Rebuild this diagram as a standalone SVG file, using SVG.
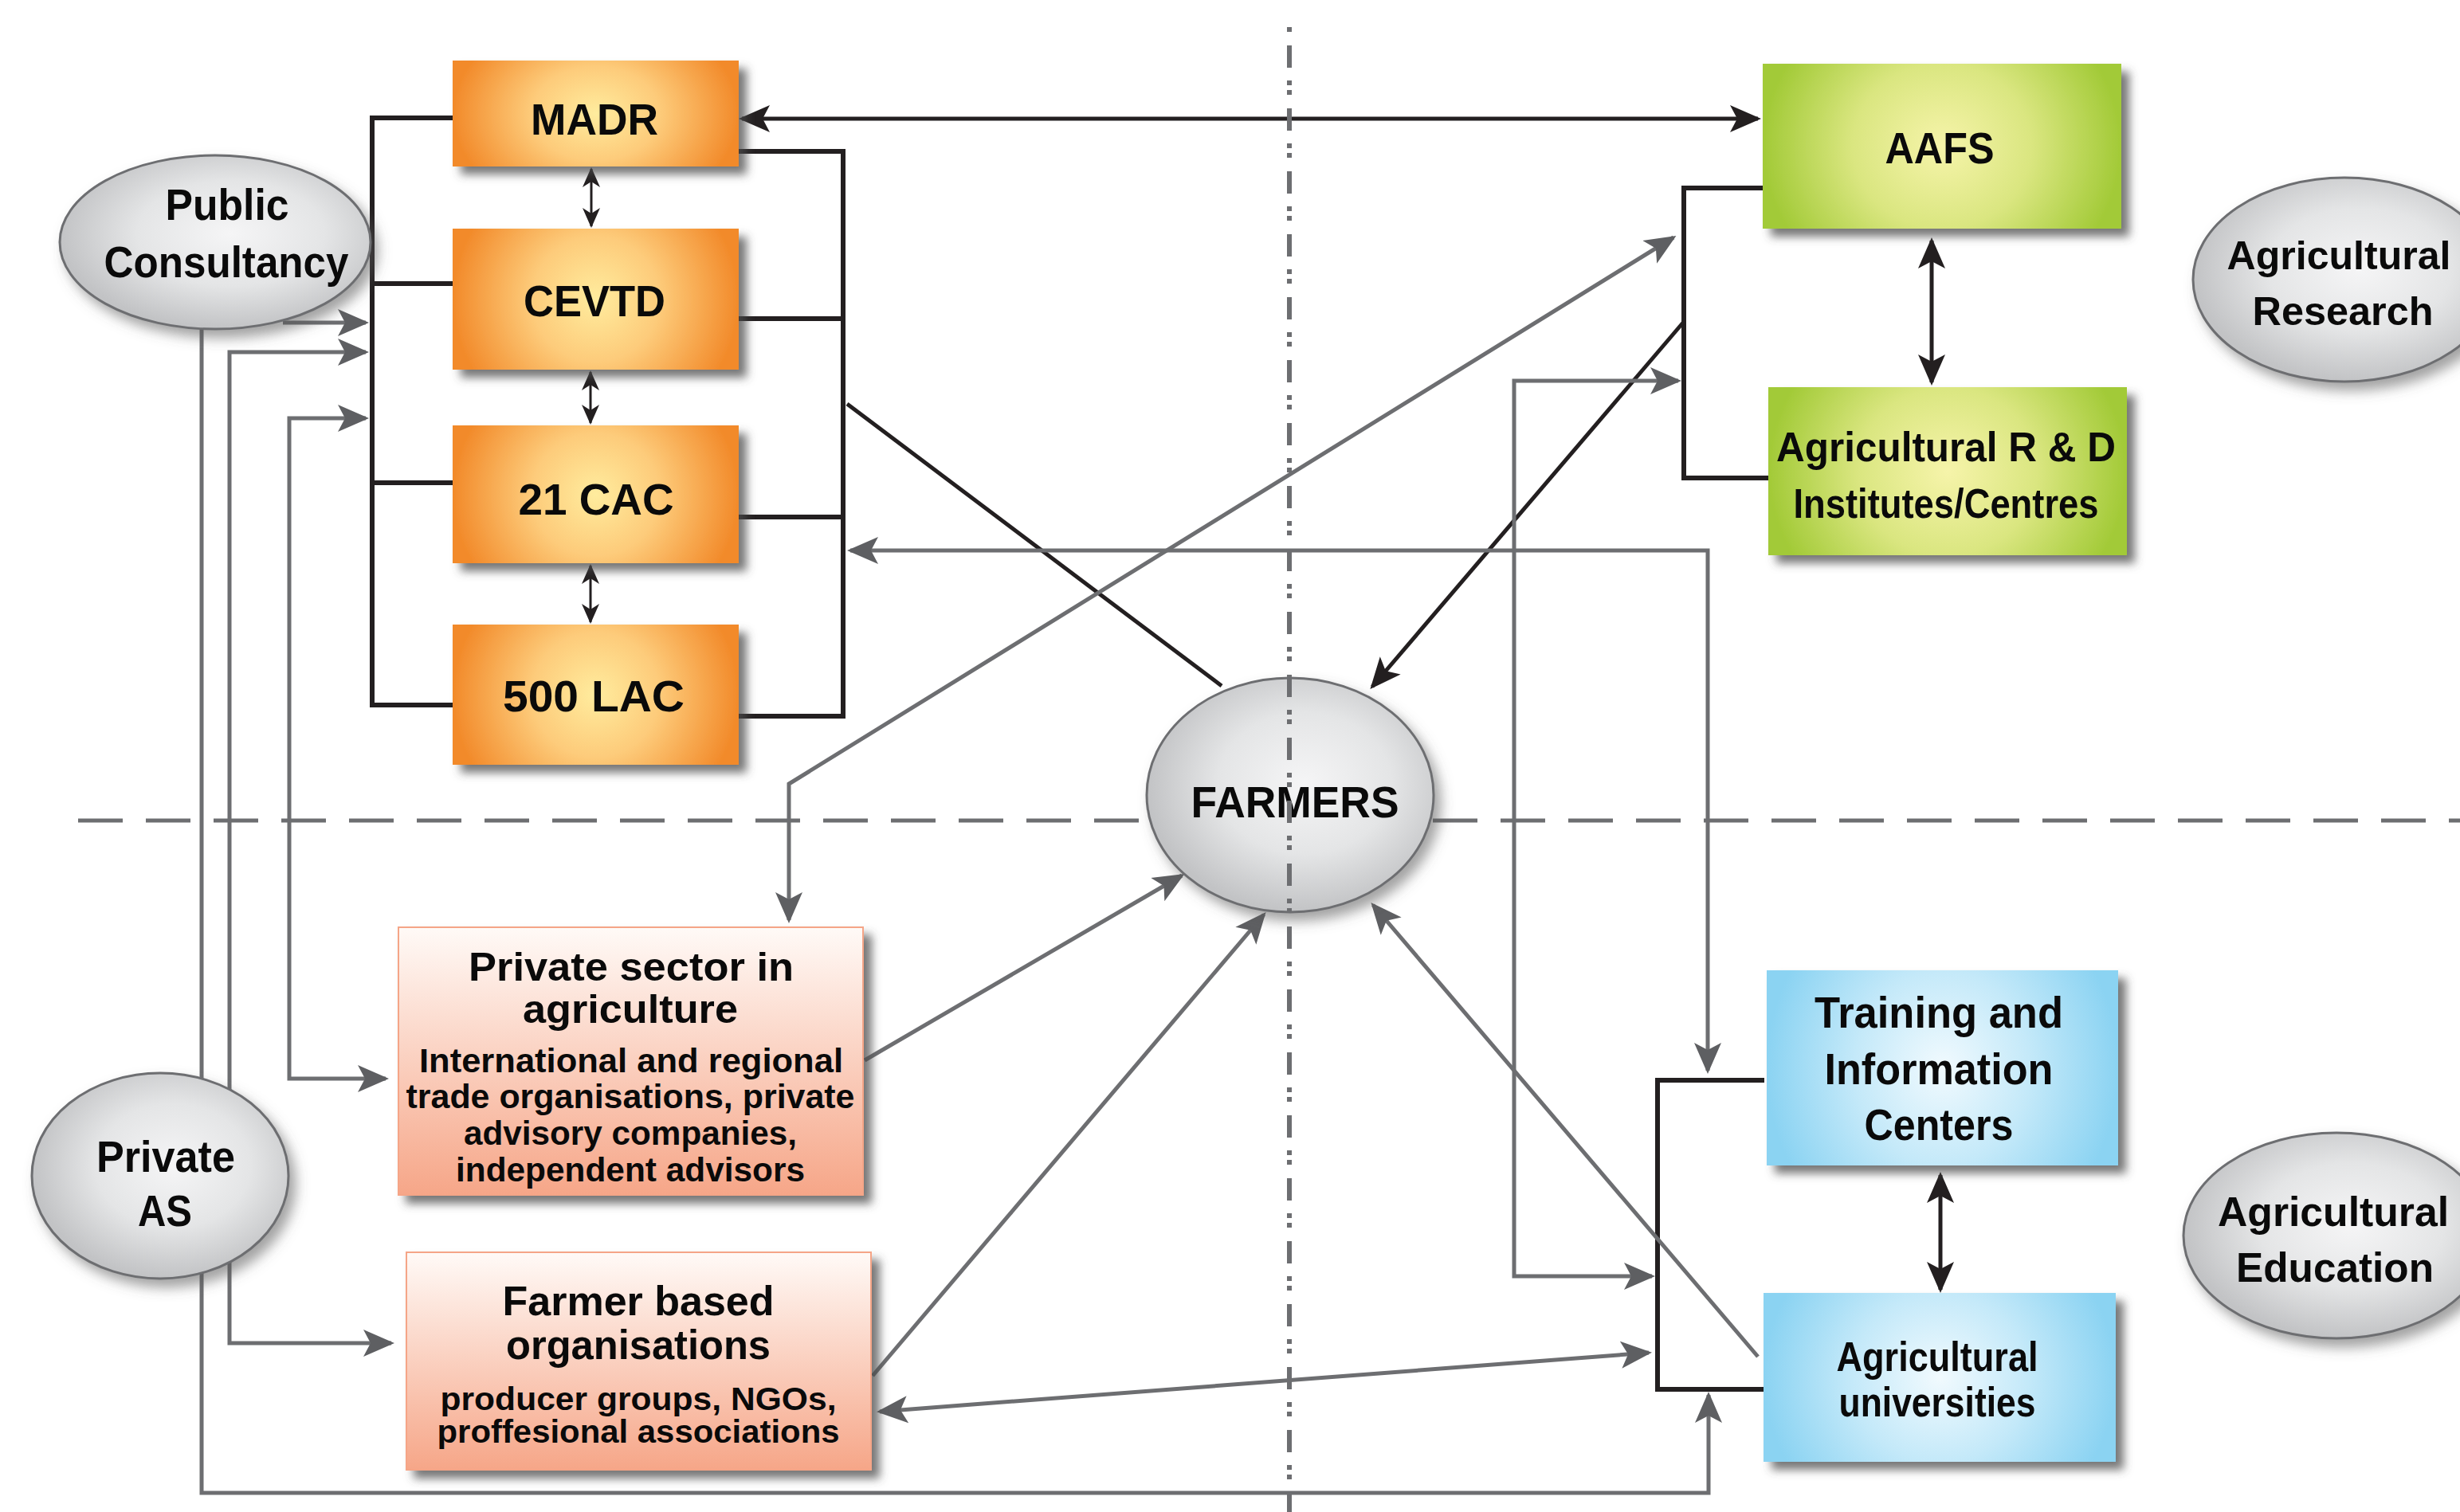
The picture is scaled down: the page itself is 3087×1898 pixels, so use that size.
<svg xmlns="http://www.w3.org/2000/svg" width="3087" height="1898" viewBox="0 0 3087 1898">
<style>
.t{font-family:"Liberation Sans",Arial,sans-serif;font-weight:700;fill:#0a0a0a;text-anchor:middle}
.f56{font-size:56px}.f52{font-size:52px}.f50{font-size:50px}.f42{font-size:42px}.f40{font-size:40px}
.blk{fill:none;stroke:#231F20;stroke-width:6}
.blk5{fill:none;stroke:#231F20;stroke-width:5}
.blk3{fill:none;stroke:#231F20;stroke-width:3}
.gry{fill:none;stroke:#6D6E71;stroke-width:5}
.ell{stroke:#6D6E71;stroke-width:3;fill:url(#gGray)}
</style>
<defs>
<radialGradient id="gOr" cx=".5" cy=".5" r=".5" gradientTransform="translate(.5 .5) scale(1 2) translate(-.5 -.5)">
<stop offset="0" stop-color="#FFEC9E"/><stop offset=".45" stop-color="#FDCB7A"/><stop offset="1" stop-color="#F28A2A"/>
</radialGradient>
<radialGradient id="gGr" cx=".5" cy=".5" r=".5" gradientTransform="translate(.5 .5) scale(1 2) translate(-.5 -.5)">
<stop offset="0" stop-color="#F6F4AA"/><stop offset=".5" stop-color="#DAE680"/><stop offset="1" stop-color="#A2CA37"/>
</radialGradient>
<radialGradient id="gBl" cx=".5" cy=".5" r=".5" gradientTransform="translate(.5 .5) scale(1 2) translate(-.5 -.5)">
<stop offset="0" stop-color="#F1FAFE"/><stop offset=".5" stop-color="#C4E9F9"/><stop offset="1" stop-color="#8BD3F2"/>
</radialGradient>
<linearGradient id="gSa" x1="0" y1="0" x2="0" y2="1">
<stop offset="0" stop-color="#FFFAF7"/><stop offset="1" stop-color="#F6A688"/>
</linearGradient>
<radialGradient id="gGray" cx=".55" cy=".45" r=".55">
<stop offset="0" stop-color="#F5F5F6"/><stop offset=".55" stop-color="#E4E5E6"/><stop offset="1" stop-color="#C2C3C5"/>
</radialGradient>
<filter id="sh" x="-10%" y="-10%" width="130%" height="140%">
<feDropShadow dx="10" dy="10" stdDeviation="6" flood-color="#4A4A4C" flood-opacity=".75"/>
</filter>
<filter id="she" x="-10%" y="-10%" width="130%" height="140%">
<feDropShadow dx="8" dy="10" stdDeviation="8" flood-color="#555" flood-opacity=".55"/>
</filter>
<marker id="aG" viewBox="0 0 40 36" refX="35" refY="18" markerWidth="40" markerHeight="36" markerUnits="userSpaceOnUse" orient="auto-start-reverse">
<path d="M0,1 L39,18 L0,35 L9,18 Z" fill="#5E5F62"/>
</marker>
<marker id="aB" viewBox="0 0 40 36" refX="35" refY="18" markerWidth="40" markerHeight="36" markerUnits="userSpaceOnUse" orient="auto-start-reverse">
<path d="M0,1 L39,18 L0,35 L9,18 Z" fill="#231F20"/>
</marker>
<marker id="aS" viewBox="0 0 26 24" refX="23" refY="12" markerWidth="26" markerHeight="24" markerUnits="userSpaceOnUse" orient="auto-start-reverse">
<path d="M0,1 L25,12 L0,23 L7,12 Z" fill="#231F20"/>
</marker>
</defs>
<rect width="3087" height="1898" fill="#fff"/>

<g id="separators-h">
<path d="M98,1030 H3087" fill="none" stroke="#6D6E71" stroke-width="5" stroke-dasharray="56 29"/>
</g>

<g id="connectors">
<path class="blk" d="M568,148 H467 V885 H568 M467,356 H568 M467,606 H568"/>
<path class="blk" d="M927,190 H1058 V899 H927 M927,400 H1058 M927,649 H1058"/>
<path class="blk" d="M2212,236 H2113 V600 H2219"/>
<path class="blk" d="M2214,1356 H2080 V1744 H2214"/>
<path class="blk5" d="M931,149 H2206" marker-start="url(#aB)" marker-end="url(#aB)"/>
<path class="blk3" d="M742,212 V284" marker-start="url(#aS)" marker-end="url(#aS)"/>
<path class="blk3" d="M741,467 V531" marker-start="url(#aS)" marker-end="url(#aS)"/>
<path class="blk3" d="M741,710 V781" marker-start="url(#aS)" marker-end="url(#aS)"/>
<path class="blk5" d="M2424,302 V480" marker-start="url(#aB)" marker-end="url(#aB)"/>
<path class="blk5" d="M2435,1475 V1619" marker-start="url(#aB)" marker-end="url(#aB)"/>
<path class="blk5" d="M1063,507 L1533,861"/>
<path class="blk5" d="M2112,405 L1722,862" marker-end="url(#aB)"/>
<path class="gry" d="M355,405 H459" marker-end="url(#aG)"/>
<path class="gry" d="M459,442 H288 V1686 H491" marker-start="url(#aG)" marker-end="url(#aG)"/>
<path class="gry" d="M459,525 H363 V1354 H484" marker-start="url(#aG)" marker-end="url(#aG)"/>
<path class="gry" d="M253,412 V1874 H2144 V1751" marker-end="url(#aG)"/>
<path class="gry" d="M2100,298 L990,984 V1155" marker-start="url(#aG)" marker-end="url(#aG)"/>
<path class="gry" d="M1067,691 H2143 V1344" marker-start="url(#aG)" marker-end="url(#aG)"/>
<path class="gry" d="M2106,478 H1900 V1602 H2073" marker-start="url(#aG)" marker-end="url(#aG)"/>
<path class="gry" d="M1085,1331 L1483,1099" marker-end="url(#aG)"/>
<path class="gry" d="M1095,1727 L1586,1148" marker-end="url(#aG)"/>
<path class="gry" d="M2206,1703 L1723,1136" marker-end="url(#aG)"/>
<path class="gry" d="M1104,1772 L2069,1698" marker-start="url(#aG)" marker-end="url(#aG)"/>
</g>

<g id="madr">
<rect x="568" y="76" width="359" height="133" fill="url(#gOr)" filter="url(#sh)"/>
<text class="t f56" x="746" y="169" textLength="160" lengthAdjust="spacingAndGlyphs">MADR</text>
</g>
<g id="cevtd">
<rect x="568" y="287" width="359" height="177" fill="url(#gOr)" filter="url(#sh)"/>
<text class="t f56" x="746" y="397" textLength="178" lengthAdjust="spacingAndGlyphs">CEVTD</text>
</g>
<g id="cac21">
<rect x="568" y="534" width="359" height="173" fill="url(#gOr)" filter="url(#sh)"/>
<text class="t f56" x="748" y="646" textLength="195" lengthAdjust="spacingAndGlyphs">21 CAC</text>
</g>
<g id="lac500">
<rect x="568" y="784" width="359" height="176" fill="url(#gOr)" filter="url(#sh)"/>
<text class="t f56" x="745" y="893" textLength="228" lengthAdjust="spacingAndGlyphs">500 LAC</text>
</g>

<g id="public-consultancy">
<ellipse class="ell" cx="270" cy="304" rx="195" ry="109" filter="url(#she)"/>
<text class="t f56" x="285" y="276" textLength="155" lengthAdjust="spacingAndGlyphs">Public</text>
<text class="t f56" x="284" y="348" textLength="307" lengthAdjust="spacingAndGlyphs">Consultancy</text>
</g>

<g id="private-as">
<ellipse class="ell" cx="201" cy="1476" rx="161" ry="129" filter="url(#she)"/>
<text class="t f56" x="208" y="1471" textLength="174" lengthAdjust="spacingAndGlyphs">Private</text>
<text class="t f56" x="207" y="1539" textLength="68" lengthAdjust="spacingAndGlyphs">AS</text>
</g>

<g id="private-sector">
<rect x="500" y="1164" width="583" height="336" fill="url(#gSa)" stroke="#F5A587" stroke-width="2" filter="url(#sh)"/>
<text class="t f50" x="792" y="1231" textLength="408" lengthAdjust="spacingAndGlyphs">Private sector in</text>
<text class="t f50" x="791" y="1284" textLength="270" lengthAdjust="spacingAndGlyphs">agriculture</text>
<text class="t f42" x="792" y="1346" textLength="532" lengthAdjust="spacingAndGlyphs">International and regional</text>
<text class="t f42" x="791" y="1391" textLength="563" lengthAdjust="spacingAndGlyphs">trade organisations, private</text>
<text class="t f42" x="791" y="1437" textLength="418" lengthAdjust="spacingAndGlyphs">advisory companies,</text>
<text class="t f42" x="791" y="1483" textLength="438" lengthAdjust="spacingAndGlyphs">independent advisors</text>
</g>

<g id="farmer-based">
<rect x="510" y="1572" width="583" height="273" fill="url(#gSa)" stroke="#F5A587" stroke-width="2" filter="url(#sh)"/>
<text class="t f52" x="801" y="1651" textLength="341" lengthAdjust="spacingAndGlyphs">Farmer based</text>
<text class="t f52" x="801" y="1706" textLength="332" lengthAdjust="spacingAndGlyphs">organisations</text>
<text class="t f40" x="801" y="1770" textLength="497" lengthAdjust="spacingAndGlyphs">producer groups, NGOs,</text>
<text class="t f40" x="801" y="1811" textLength="505" lengthAdjust="spacingAndGlyphs">proffesional associations</text>
</g>

<g id="farmers">
<ellipse class="ell" cx="1619" cy="998" rx="180" ry="147" filter="url(#she)"/>
<text class="t f56" x="1625" y="1026" textLength="261" lengthAdjust="spacingAndGlyphs">FARMERS</text>
</g>

<g id="aafs">
<rect x="2212" y="80" width="450" height="207" fill="url(#gGr)" filter="url(#sh)"/>
<text class="t f56" x="2434" y="205" textLength="137" lengthAdjust="spacingAndGlyphs">AAFS</text>
</g>
<g id="rd-institutes">
<rect x="2219" y="486" width="450" height="211" fill="url(#gGr)" filter="url(#sh)"/>
<text class="t f52" x="2442" y="579" textLength="426" lengthAdjust="spacingAndGlyphs">Agricultural R &amp; D</text>
<text class="t f52" x="2442" y="650" textLength="383" lengthAdjust="spacingAndGlyphs">Institutes/Centres</text>
</g>
<g id="agricultural-research">
<ellipse class="ell" cx="2942" cy="351" rx="190" ry="128" filter="url(#she)"/>
<text class="t f50" x="2935" y="338" textLength="281" lengthAdjust="spacingAndGlyphs">Agricultural</text>
<text class="t f50" x="2940" y="408" textLength="227" lengthAdjust="spacingAndGlyphs">Research</text>
</g>

<g id="training-centers">
<rect x="2217" y="1218" width="441" height="245" fill="url(#gBl)" filter="url(#sh)"/>
<text class="t f56" x="2433" y="1290" textLength="312" lengthAdjust="spacingAndGlyphs">Training and</text>
<text class="t f56" x="2433" y="1361" textLength="287" lengthAdjust="spacingAndGlyphs">Information</text>
<text class="t f56" x="2433" y="1431" textLength="187" lengthAdjust="spacingAndGlyphs">Centers</text>
</g>
<g id="agricultural-universities">
<rect x="2213" y="1623" width="442" height="212" fill="url(#gBl)" filter="url(#sh)"/>
<text class="t f52" x="2431" y="1721" textLength="253" lengthAdjust="spacingAndGlyphs">Agricultural</text>
<text class="t f52" x="2431" y="1778" textLength="247" lengthAdjust="spacingAndGlyphs">universities</text>
</g>
<g id="agricultural-education">
<ellipse class="ell" cx="2932" cy="1551" rx="192" ry="129" filter="url(#she)"/>
<text class="t f52" x="2928" y="1539" textLength="290" lengthAdjust="spacingAndGlyphs">Agricultural</text>
<text class="t f52" x="2930" y="1609" textLength="248" lengthAdjust="spacingAndGlyphs">Education</text>
</g>

<g id="separators-v">
<path d="M1618,34 V1898" fill="none" stroke="#6D6E71" stroke-width="6" stroke-dasharray="6 17 28 16 6 6"/>
</g>
</svg>
